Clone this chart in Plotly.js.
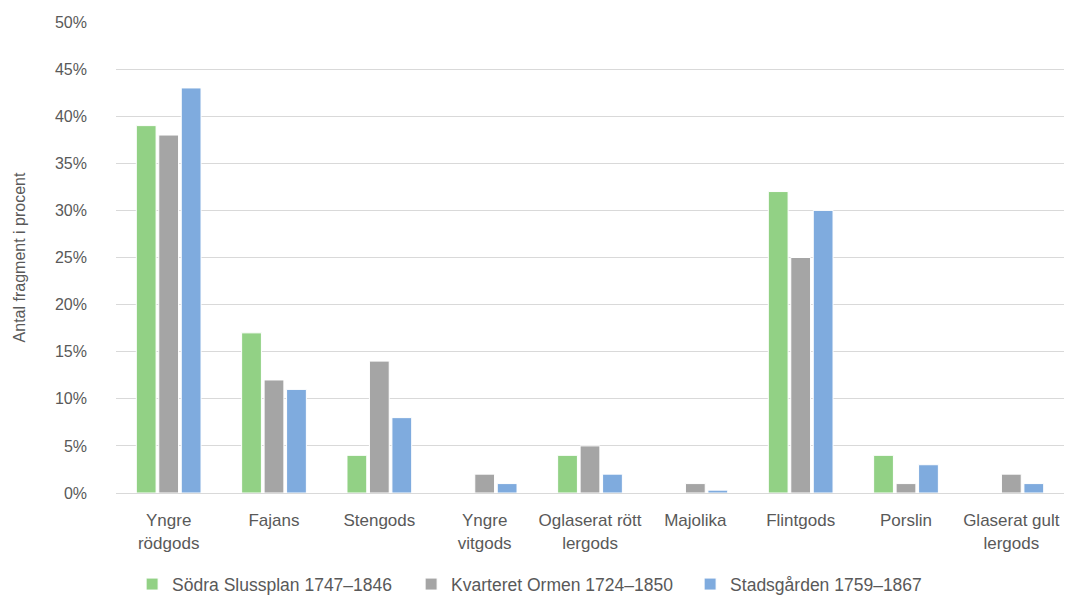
<!DOCTYPE html>
<html><head><meta charset="utf-8">
<script src="https://cdn.plot.ly/plotly-3.0.1.min.js"></script>
<style>html,body{margin:0;padding:0;background:#fff}#chart{width:1067px;height:596px}</style>
</head><body><div id="chart"></div>
<script>
const categories = ["Yngre<br>rödgods","Fajans","Stengods","Yngre<br>vitgods","Oglaserat rött<br>lergods","Majolika","Flintgods","Porslin","Glaserat gult<br>lergods"];
const seriesNames = ["Södra Slussplan 1747–1846","Kvarteret Ormen 1724–1850","Stadsgården 1759–1867"];
const sodra = [39, 17, 4, 0, 4, 0, 32, 4, 0];
const ormen = [38, 12, 14, 2, 5, 1, 25, 1, 2];
const stads = [43, 11, 8, 1, 2, 0.3, 30, 3, 1];
const colors = ["#92D185","#A5A5A5","#7FABDE"];
const font2 = "'Liberation Sans',Arial,sans-serif";
const vals = [sodra, ormen, stads];
const traces = vals.map((v,i)=>({
  type:"bar", name: seriesNames[i], x: categories, y: v,
  marker:{color: colors[i], line:{color:"#fff", width:1}},
  hoverinfo:"skip"
}));
Plotly.newPlot("chart", traces, {
  width:1067, height:596,
  margin:{l:116, r:3, t:22, b:103, autoexpand:false},
  paper_bgcolor:"#fff", plot_bgcolor:"#fff",
  barmode:"group", bargap:0.36, bargroupgap:0.12,
  font:{family:font2, size:17, color:"#595959"},
  xaxis:{automargin:false, showgrid:false, showline:true, linecolor:"#D9D9D9", linewidth:1, ticks:"", ticklabelstandoff:12, tickfont:{size:17, color:"#595959"}, fixedrange:true},
  yaxis:{automargin:false, range:[0,50], dtick:5, ticksuffix:"%", gridcolor:"#D9D9D9", gridwidth:1, zeroline:false, showline:false,
         ticks:"", ticklabelstandoff:28, tickfont:{size:16, color:"#595959"},
         title:{text:"Antal fragment i procent", font:{size:16, color:"#595959"}, standoff:25}},
  legend:{orientation:"h", x:0.017, xanchor:"left", yref:"container", y:0.05, yanchor:"top", font:{size:17.5, color:"#595959"}, traceorder:"normal", itemwidth:30, entrywidth:234},
  showlegend:true
}, {displayModeBar:false, staticPlot:true});
</script></body></html>
